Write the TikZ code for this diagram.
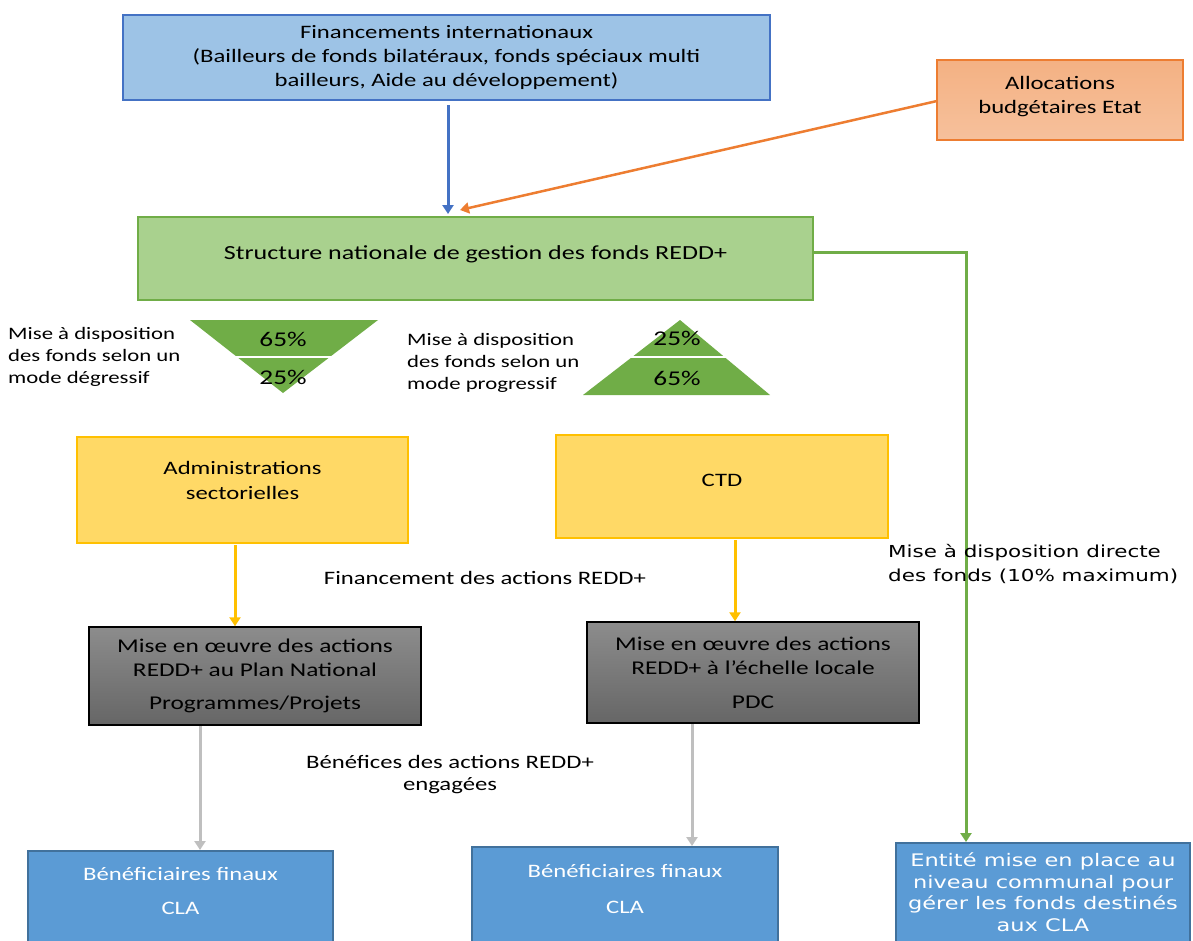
\documentclass[tikz,border=0pt]{standalone}
\usepackage{fontspec}
\setmainfont[FakeStretch=1.3]{Carlito}
\newfontfamily\verd[FakeStretch=1.3]{DejaVu Sans}
\usetikzlibrary{arrows.meta}
\newcommand\xdepth[1]{\rule[-#1]{0pt}{0pt}}
\definecolor{topfill}{HTML}{9DC3E6}
\definecolor{topdraw}{HTML}{4472C4}
\definecolor{orfill}{HTML}{F4B183}
\definecolor{ordraw}{HTML}{ED7D31}
\definecolor{grfill}{HTML}{A9D18E}
\definecolor{grdraw}{HTML}{70AD47}
\definecolor{yefill}{HTML}{FFD966}
\definecolor{yedraw}{HTML}{FFC000}
\definecolor{blfill}{HTML}{5B9BD5}
\definecolor{bldraw}{HTML}{41719C}
\definecolor{gyarrow}{HTML}{BFBFBF}
\tikzset{
  box/.style={rectangle, line width=2pt, align=center, inner sep=2pt, font=\fontsize{19}{24}\selectfont},
  graybox/.style={box, top color=black!45, bottom color=black!60, draw=black, line width=1.5pt, font=\fontsize{19.5}{24}\selectfont},
  arr/.style={line width=3pt, -{Triangle[width=11pt,length=9pt]}},
  lbl/.style={font=\fontsize{19}{22}\selectfont, align=left, inner sep=0pt},
  pct/.style={font=\fontsize{21}{24}\selectfont, inner sep=0pt},
}
\begin{document}
\begin{tikzpicture}[x=1pt,y=-1pt]
\useasboundingbox (0,0) rectangle (1193,940);
% top boxes
\node[box, fill=topfill, draw=topdraw, minimum width=647, minimum height=85] (fin) at (446.5,57.5)
  {Financements internationaux\\(Bailleurs de fonds bilatéraux, fonds spéciaux multi\\bailleurs, Aide au développement)};
\node[box, top color=orfill, bottom color=orfill!80!white, draw=ordraw, line width=1.5pt, minimum width=246, minimum height=80] (alloc) at (1060,100)
  {Allocations\\budgétaires Etat\xdepth{10pt}};
\node[box, fill=grfill, draw=grdraw, minimum width=675, minimum height=83, font=\fontsize{20}{24}\selectfont] (struct) at (475.5,258.5)
  {Structure nationale de gestion des fonds REDD+\xdepth{12pt}};
% arrows to structure
\coordinate (finb) at (448,105);
\coordinate (structa) at (448,214);
\draw[arr, draw=topdraw, fill=topdraw] (finb) -- (structa);
\coordinate (allocl) at (937,101);
\coordinate (structb) at (460,210);
\draw[arr, draw=ordraw, line width=2.5pt] (allocl) -- (structb);
% triangles
\fill[grdraw] (190,320) -- (378,320) -- (283,393) -- cycle;
\draw[white, line width=2.5pt] (225,357) -- (340,357);
\node[pct] (p65a) at (283,339) {65\%};
\node[pct] (p25a) at (283,377) {25\%};
\fill[grdraw] (680,320) -- (770,395) -- (583,395) -- cycle;
\draw[white, line width=2.5pt] (620,357) -- (740,357);
\node[pct] (p25b) at (677,338) {25\%};
\node[pct] (p65b) at (677,378) {65\%};
\node[lbl, anchor=north west, font=\fontsize{17.5}{22}\selectfont] (degr) at (8,327) {Mise à disposition\\des fonds selon un\\mode dégressif};
\node[lbl, anchor=north west, font=\fontsize{17.5}{22}\selectfont] (progr) at (407,333) {Mise à disposition\\des fonds selon un\\mode progressif};
% yellow boxes
\node[box, fill=yefill, draw=yedraw, line width=2.5pt, minimum width=331, minimum height=106, font=\fontsize{19}{25}\selectfont] (admin) at (242.5,490)
  {Administrations\\sectorielles\xdepth{20pt}};
\node[box, fill=yefill, draw=yedraw, line width=2.5pt, minimum width=332, minimum height=103] (ctd) at (722,486.5)
  {CTD\xdepth{13pt}};
% gray boxes
\node[graybox, minimum width=332, minimum height=98] (impl1) at (255,676)
  {Mise en œuvre des actions\\REDD+ au Plan National\\[9pt]Programmes/Projets};
\node[graybox, minimum width=332, minimum height=101] (impl2) at (753,672.5)
  {Mise en œuvre des actions\\REDD+ à l’échelle locale\\[10pt]PDC};
\coordinate (a1s) at (235,545);
\draw[arr, draw=yedraw] (a1s) -- (impl1.north -| a1s);
\coordinate (a2s) at (735,540);
\draw[arr, draw=yedraw] (a2s) -- (impl2.north -| a2s);
\node[lbl] (finlab) at (485,578) {Financement des actions REDD+};
% bottom boxes
\node[box, fill=blfill, draw=bldraw, minimum width=305, minimum height=110, text=white, anchor=north] (ben1) at (180.5,850)
  {Bénéficiaires finaux\\[10pt]CLA\xdepth{30pt}};
\node[box, fill=blfill, draw=bldraw, minimum width=306, minimum height=114, text=white, anchor=north] (ben2) at (625,846)
  {Bénéficiaires finaux\\[12pt]CLA\xdepth{30pt}};
\node[box, fill=blfill, draw=bldraw, minimum width=294, minimum height=118, text=white, anchor=north, font=\verd\fontsize{17.3}{21.7}\selectfont] (ent) at (1043,842)
  {Entité mise en place au\\niveau communal pour\\gérer les fonds destinés\\aux CLA\xdepth{20pt}};
\coordinate (g1) at (200,726);
\draw[arr, draw=gyarrow] (g1) -- (ben1.north -| g1);
\coordinate (g2) at (692,724);
\draw[arr, draw=gyarrow] (g2) -- (ben2.north -| g2);
\node[lbl, align=center] (benlab) at (450,775) {Bénéfices des actions REDD+\\engagées};
% green direct line
\coordinate (gcorner) at (966,252);
\draw[arr, draw=grdraw] (struct.east |- gcorner) -- (gcorner) -- (ent.north -| gcorner);
\node[lbl, anchor=north west, font=\verd\fontsize{16.5}{24}\selectfont] (dirlab) at (888,544) {Mise à disposition directe\\des fonds (10\% maximum)};
\end{tikzpicture}
\end{document}
